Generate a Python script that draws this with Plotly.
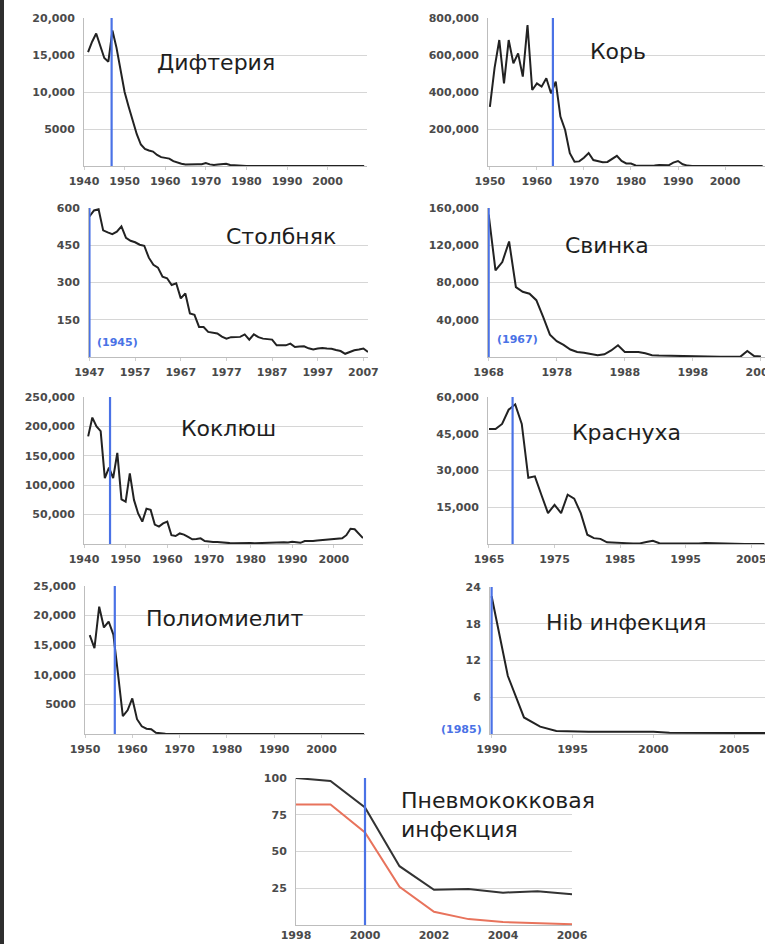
import plotly.graph_objects as go

W, H = 765, 944

# ---------------- data ----------------
diph_years = [1941, 1942, 1943, 1944, 1945, 1946, 1947, 1948, 1949, 1950, 1951, 1952, 1953, 1954,
              1955, 1956, 1957, 1958, 1959, 1960, 1961, 1962, 1963, 1964, 1965, 1966, 1967, 1968,
              1969, 1970, 1971, 1972, 1973, 1974, 1975, 1976, 1977, 1978, 1979, 1980, 1985, 1990,
              1995, 2000, 2005, 2009]
diph_cases = [15400, 16800, 17900, 16300, 14600, 14100, 18300, 16000, 13000, 10000, 8000, 6200, 4300, 2900,
              2300, 2100, 1950, 1500, 1200, 1100, 1000, 650, 450, 300, 200, 180, 200, 220,
              230, 400, 220, 150, 200, 250, 300, 130, 80, 70, 50, 10, 5, 5,
              5, 3, 2, 2]

measles_years = [1950, 1951, 1952, 1953, 1954, 1955, 1956, 1957, 1958, 1959, 1960, 1961, 1962, 1963,
                 1964, 1965, 1966, 1967, 1968, 1969, 1970, 1971, 1972, 1973, 1974, 1975, 1976, 1977,
                 1978, 1979, 1980, 1981, 1982, 1983, 1984, 1985, 1986, 1987, 1988, 1989, 1990, 1991,
                 1992, 1993, 1995, 2000, 2005, 2008]
measles_cases = [320000, 530000, 681000, 447000, 681000, 555000, 609000, 483000, 762000, 411000, 447000,
                 429000, 474000, 393000, 456000, 267000, 195000, 69000, 23000, 25000, 45000, 70000,
                 32000, 25000, 20000, 22000, 40000, 55000, 27000, 14000, 13000, 3000, 2000, 1500,
                 2500, 2800, 6000, 3600, 3400, 18000, 27000, 9600, 2200, 400, 300, 100, 100, 100]

tet_years = list(range(1947, 2009))
tet_cases = [566, 590, 595, 510, 502, 495, 505, 526, 480, 468, 462, 452, 448, 400, 371, 360, 323, 317,
             290, 297, 236, 256, 175, 170, 121, 121, 101, 98, 95, 82, 74, 80, 81, 81, 91, 70, 91, 80,
             74, 72, 70, 47, 47, 47, 54, 40, 42, 43, 35, 30, 34, 36, 34, 33, 28, 24, 13, 20, 27, 30,
             34, 20]

mumps_years = list(range(1968, 2009))
mumps_cases = [153000, 93000, 102000, 124000, 75000, 70000, 68000, 61000, 43000, 24000, 17000, 13000,
               8000, 5400, 4500, 3000, 1800, 2900, 7000, 12600, 5400, 5500, 5400, 4000, 2000, 1500,
               1300, 1000, 900, 800, 700, 500, 400, 300, 300, 300, 300, 400, 6500, 1000, 500]

pert_years = list(range(1941, 2008))
pert_cases = [183000, 215000, 200000, 192000, 112000, 130000, 112000, 155000, 76000, 72000, 120000,
              75000, 52000, 38000, 60000, 58000, 33000, 29500, 35000, 38000, 15000, 13600, 18000,
              16000, 12000, 8000, 8500, 9700, 5000, 4000, 3500, 3500, 2500, 2000, 1500, 1200, 1500,
              1500, 1500, 1500, 1300, 1500, 2000, 2500, 3000, 3000, 2800, 3000, 2500, 4000, 3000,
              2000, 5000, 4500, 5000, 6000, 6500, 7000, 7000, 7500, 8000, 9700, 15000, 26000, 25000,
              17000, 10000]

rub_years = list(range(1965, 2008))
rub_cases = [46900, 46900, 49000, 54800, 57000, 49000, 27000, 27600, 20000, 12600, 16000, 12600, 20100,
             18500, 12600, 3800, 2400, 2100, 700, 500, 450, 350, 250, 250, 800, 1300, 300, 160, 190,
             230, 130, 240, 180, 360, 270, 180, 30, 20, 20, 20, 20, 20, 20]

polio_years = [1951, 1952, 1953, 1954, 1955, 1956, 1957, 1958, 1959, 1960, 1961, 1962, 1963, 1964, 1965,
               1966, 1967, 1970, 1980, 1990, 2000, 2009]
polio_cases = [16700, 14500, 21500, 18000, 19000, 16800, 10000, 3000, 4000, 6000, 2500, 1300, 900, 800,
               200, 100, 50, 20, 10, 5, 0, 0]

hib_years = list(range(1990, 2008))
hib_cases = [22.5, 9.5, 2.7, 1.2, 0.5, 0.4, 0.35, 0.35, 0.35, 0.35, 0.35, 0.2, 0.2, 0.2, 0.15, 0.15,
             0.15, 0.15]

pneu_years = [1998, 1999, 2000, 2001, 2002, 2003, 2004, 2005, 2006]
pneu_all = [100, 98, 80, 40, 24, 24.5, 22, 23, 21]
pneu_young = [82, 82, 63, 26, 9, 4, 2, 1, 0.5]

vaccine_year = {1: 1946.8, 2: 1963.4, 3: 1947, 4: 1968, 5: 1946.25, 6: 1968.6, 7: 1956.3, 8: 1990, 9: 2000}

titles = ["Дифтерия", "Корь", "Столбняк", "Свинка", "Коклюш", "Краснуха", "Полиомиелит",
          "Hib инфекция", "Пневмококковая<br>инфекция"]

ytick_vals = {
    1: [5000, 10000, 15000, 20000],
    2: [200000, 400000, 600000, 800000],
    3: [150, 300, 450, 600],
    4: [40000, 80000, 120000, 160000],
    5: [50000, 100000, 150000, 200000, 250000],
    6: [15000, 30000, 45000, 60000],
    7: [5000, 10000, 15000, 20000, 25000],
    8: [6, 12, 18, 24],
    9: [25, 50, 75, 100],
}
ytick_text = {
    1: ["5000", "10,000", "15,000", "20,000"],
    2: ["200,000", "400,000", "600,000", "800,000"],
    3: ["150", "300", "450", "600"],
    4: ["40,000", "80,000", "120,000", "160,000"],
    5: ["50,000", "100,000", "150,000", "200,000", "250,000"],
    6: ["15,000", "30,000", "45,000", "60,000"],
    7: ["5000", "10,000", "15,000", "20,000", "25,000"],
    8: ["6", "12", "18", "24"],
    9: ["25", "50", "75", "100"],
}
xtick_vals = {
    1: [1940, 1950, 1960, 1970, 1980, 1990, 2000],
    2: [1950, 1960, 1970, 1980, 1990, 2000],
    3: [1947, 1957, 1967, 1977, 1987, 1997, 2007],
    4: [1968, 1978, 1988, 1998, 2008],
    5: [1940, 1950, 1960, 1970, 1980, 1990, 2000],
    6: [1965, 1975, 1985, 1995, 2005],
    7: [1950, 1960, 1970, 1980, 1990, 2000],
    8: [1990, 1995, 2000, 2005],
    9: [1998, 2000, 2002, 2004, 2006],
}
pre_chart_labels = {3: "(1945)", 4: "(1967)", 8: "(1985)"}

series = {
    1: [(diph_years, diph_cases, "#222222")],
    2: [(measles_years, measles_cases, "#222222")],
    3: [(tet_years, tet_cases, "#222222")],
    4: [(mumps_years, mumps_cases, "#222222")],
    5: [(pert_years, pert_cases, "#222222")],
    6: [(rub_years, rub_cases, "#222222")],
    7: [(polio_years, polio_cases, "#222222")],
    8: [(hib_years, hib_cases, "#222222")],
    9: [(pneu_years, pneu_all, "#333333"), (pneu_years, pneu_young, "#e8735c")],
}

# ---------------- layout (pixel boxes) ----------------
boxes = {  # left, right, top, bottom in px
    1: (84, 367, 18, 166), 2: (488, 765, 18, 166),
    3: (89, 368, 208, 357), 4: (488, 765, 208, 357),
    5: (84, 363, 397, 544), 6: (488, 765, 397, 544),
    7: (85, 365, 586, 734), 8: (490, 765, 587, 734),
    9: (296, 572, 778, 925),
}
xranges = {1: [1940, 2009.7], 2: [1949.6, 2008.5], 3: [1946.9, 2008], 4: [1967.9, 2008.6],
           5: [1940, 2007], 6: [1964.85, 2007.1], 7: [1950, 2009.2], 8: [1989.9, 2006.9],
           9: [1998, 2006]}
xlabel_gap = {i: (3, 2) for i in range(1, 9)}
xlabel_gap[9] = (0, 0)
title_pos = {1: (216, 63, "center"), 2: (618, 52, "center"), 3: (281, 236, "center"),
             4: (607, 245, "center"), 5: (228, 428, "center"), 6: (626, 432, "center"),
             7: (225, 618, "center"), 8: (626, 622, "center"), 9: (399, 815, "left")}
pre_label_pos = {3: (95, 342, "left"), 4: (495, 340, "left"), 8: (484, 729, "right")}

BLUE = "#4a72e6"
GRID = "#d6d6d6"
AXIS = "#bdbdbd"
TICKFONT = dict(family="DejaVu Sans", size=11, color="#4a4a4a", weight="bold")

fig = go.Figure()
shapes = []
annotations = []

for i in range(1, 10):
    sfx = "" if i == 1 else str(i)
    l, r, t, b = boxes[i]
    ymax = ytick_vals[i][-1]
    tl, so = xlabel_gap[i]
    for xs, ys, col in series[i]:
        fig.add_trace(go.Scatter(x=xs, y=ys, mode="lines", line=dict(color=col, width=2),
                                 xaxis=f"x{sfx}", yaxis=f"y{sfx}", showlegend=False, hoverinfo="skip"))
    fig.layout[f"xaxis{sfx}"] = dict(
        domain=[l / W, r / W], anchor=f"y{sfx}", range=xranges[i],
        tickmode="array", tickvals=xtick_vals[i], showgrid=False, zeroline=False,
        showline=True, linecolor=AXIS, linewidth=1, ticks="outside" if tl else "", ticklen=max(tl, 1),
        tickcolor="#cfcfcf", tickfont=TICKFONT, ticklabelstandoff=so, automargin=False,
        ticklabeloverflow="allow", fixedrange=True)
    fig.layout[f"yaxis{sfx}"] = dict(
        domain=[1 - b / H, 1 - t / H], anchor=f"x{sfx}", range=[0, ymax],
        tickmode="array", tickvals=ytick_vals[i], ticktext=ytick_text[i],
        showgrid=True, gridcolor=GRID, gridwidth=1, zeroline=False,
        showline=True, linecolor=AXIS, linewidth=1, ticks="", tickfont=TICKFONT,
        ticklabelstandoff=6, automargin=False, ticklabeloverflow="allow", fixedrange=True)
    shapes.append(dict(type="line", xref=f"x{sfx}", yref=f"y{sfx} domain",
                       x0=vaccine_year[i], x1=vaccine_year[i], y0=0, y1=1,
                       line=dict(color=BLUE, width=2.2), layer="above"))
    tx, ty, al = title_pos[i]
    annotations.append(dict(text=titles[i - 1], xref="paper", yref="paper", x=tx / W, y=1 - ty / H,
                            xanchor=al, yanchor="middle", align="left", showarrow=False,
                            font=dict(family="DejaVu Sans", size=22, color="#1e1e1e")))
    if i in pre_chart_labels:
        px_, py_, al = pre_label_pos[i]
        annotations.append(dict(text=pre_chart_labels[i], xref="paper", yref="paper",
                                x=px_ / W, y=1 - py_ / H, xanchor=al, yanchor="middle",
                                showarrow=False,
                                font=dict(family="DejaVu Sans", size=11, color=BLUE, weight="bold")))

# dark strip at the left edge of the screenshot
shapes.append(dict(type="line", xref="paper", yref="paper", x0=2 / W, x1=2 / W, y0=0, y1=1,
                   line=dict(color="#2e2e2e", width=4), layer="above"))

fig.update_layout(width=W, height=H, autosize=False,
                  margin=dict(l=0, r=0, t=0, b=0, pad=0, autoexpand=False),
                  paper_bgcolor="white", plot_bgcolor="white",
                  shapes=shapes, annotations=annotations, showlegend=False)

fix_page = ("document.documentElement.style.margin='0';document.documentElement.style.padding='0';"
            "document.documentElement.style.overflow='hidden';"
            "document.body.style.margin='0';document.body.style.padding='0';"
            "document.body.style.overflow='hidden';")

fig.write_html("out.html", config={"displayModeBar": False, "responsive": False},
               post_script=fix_page)
